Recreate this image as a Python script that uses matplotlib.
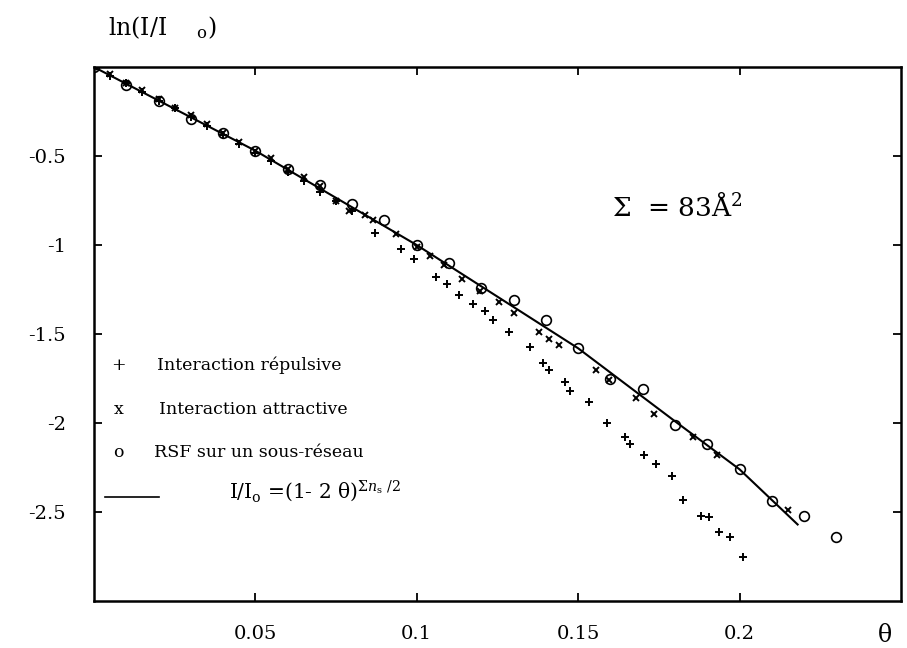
import numpy as np
import matplotlib
matplotlib.use("Agg")
import matplotlib.pyplot as plt

plt.rcParams['font.family'] = ['DejaVu Serif']
plt.rcParams['mathtext.fontset'] = 'dejavuserif'

# theoretical curve  I/Io = (1-2 theta)^(Sigma n_s / 2)
fit_x = [0.0, 0.05, 0.10, 0.15, 0.18, 0.20, 0.218]
fit_y = [0.0, -0.47, -1.00, -1.58, -1.99, -2.26, -2.57]

# o  RSF sur un sous-reseau
rsf_x = [0.0, 0.01, 0.02, 0.03, 0.04, 0.05, 0.06, 0.07, 0.08, 0.09, 0.10, 0.11,
         0.12, 0.13, 0.14, 0.15, 0.16, 0.17, 0.18, 0.19, 0.20, 0.21, 0.22, 0.23]
rsf_y = [0.0, -0.10, -0.19, -0.29, -0.37, -0.47, -0.57, -0.66, -0.77, -0.86, -1.00, -1.10,
         -1.24, -1.31, -1.42, -1.58, -1.75, -1.81, -2.01, -2.12, -2.26, -2.44, -2.52, -2.64]

# +  interaction repulsive
rep_x = [0.0, 0.005, 0.01, 0.015, 0.02, 0.025, 0.03, 0.035, 0.04, 0.045, 0.05, 0.055,
         0.06, 0.065, 0.07, 0.075, 0.08, 0.087, 0.095, 0.099, 0.106, 0.1095, 0.113,
         0.1175, 0.121, 0.1235, 0.1285, 0.135, 0.139, 0.141, 0.146, 0.1475, 0.1535,
         0.159, 0.1645, 0.166, 0.1705, 0.174, 0.179, 0.1825, 0.188, 0.1905, 0.1935,
         0.197, 0.201]
rep_y = [0.0, -0.05, -0.09, -0.14, -0.19, -0.23, -0.28, -0.33, -0.38, -0.43, -0.48, -0.53,
         -0.59, -0.64, -0.70, -0.75, -0.81, -0.93, -1.02, -1.08, -1.18, -1.22, -1.28,
         -1.33, -1.37, -1.42, -1.49, -1.57, -1.66, -1.70, -1.77, -1.82, -1.88,
         -2.00, -2.08, -2.12, -2.18, -2.23, -2.30, -2.43, -2.52, -2.53, -2.61,
         -2.64, -2.75]

# x  interaction attractive
att_x = [0.0, 0.005, 0.01, 0.015, 0.02, 0.025, 0.03, 0.035, 0.04, 0.045, 0.05, 0.055,
         0.06, 0.065, 0.07, 0.075, 0.079, 0.084, 0.0865, 0.0935, 0.100, 0.104, 0.1085,
         0.114, 0.1195, 0.1255, 0.130, 0.138, 0.141, 0.144, 0.1555, 0.1595, 0.168,
         0.1735, 0.1855, 0.193, 0.215]
att_y = [0.0, -0.04, -0.09, -0.13, -0.18, -0.23, -0.27, -0.32, -0.37, -0.42, -0.47, -0.51,
         -0.57, -0.62, -0.67, -0.75, -0.81, -0.83, -0.86, -0.94, -1.01, -1.06, -1.11,
         -1.19, -1.26, -1.32, -1.38, -1.49, -1.53, -1.56, -1.70, -1.76, -1.86,
         -1.95, -2.08, -2.18, -2.49]

xticks = [0.05, 0.1, 0.15, 0.2]
xtick_labels = ['0.05', '0.1', '0.15', '0.2']
yticks = [-2.5, -2, -1.5, -1, -0.5]
ytick_labels = ['-2.5', '-2', '-1.5', '-1', '-0.5']

fig = plt.figure(figsize=(9.07, 6.48), dpi=100)
ax = fig.add_axes([0.1036, 0.0725, 0.8897, 0.824])

ax.plot(fit_x, fit_y, color='black', lw=1.5)
ax.plot(rep_x, rep_y, ls='none', marker='+', ms=6, mew=1.4, color='black')
ax.plot(att_x, att_y, ls='none', marker='x', ms=5, mew=1.4, color='black')
ax.plot(rsf_x, rsf_y, ls='none', marker='o', ms=7, mew=1.2, mfc='none', mec='black')

ax.set_xlim(0, 0.25)
ax.set_ylim(-3, 0)
ax.set_xticks(xticks)
ax.set_xticklabels(xtick_labels)
ax.set_yticks(yticks)
ax.set_yticklabels(ytick_labels)
ax.tick_params(direction='in', length=6, width=1.3, top=True, right=True,
               labelsize=14)
ax.tick_params(axis='x', pad=17)
ax.tick_params(axis='y', pad=20)
for sp in ax.spines.values():
    sp.set_linewidth(1.8)

# hand-made legend, as in the original
leg_y = [0.442, 0.358, 0.279]
leg_sym = ['+', 'x', 'o']
leg_txt = ['Interaction répulsive', 'Interaction attractive', 'RSF sur un sous-réseau']
leg_tx = [0.0776, 0.081, 0.075]
for sy, tx, lx, yy in zip(leg_sym, leg_txt, leg_tx, leg_y):
    ax.text(0.03, yy, sy, transform=ax.transAxes, ha='center', va='center', fontsize=12.5)
    ax.text(lx, yy, tx, transform=ax.transAxes, ha='left', va='center', fontsize=12.5)
ax.plot([0.0135, 0.081], [0.195, 0.195], color='black', lw=1.2, transform=ax.transAxes)
ax.text(0.1675, 0.205, r'I/I$_\mathrm{o}$ =(1- 2 θ)$^{\Sigma n_\mathrm{s}\ /2}$',
        transform=ax.transAxes, ha='left', va='center', fontsize=14.5)

ax.text(0.642, 0.738, r'Σ  = 83Å$^{2}$', transform=ax.transAxes, ha='left',
        va='center', fontsize=19)

fig.text(0.119, 0.957, r'ln(I/I    $_\mathrm{o}$)', ha='left', va='center', fontsize=17)
fig.text(0.976, 0.020, 'θ', ha='center', va='center', fontsize=17)

fig.savefig('out.png', dpi=100)
